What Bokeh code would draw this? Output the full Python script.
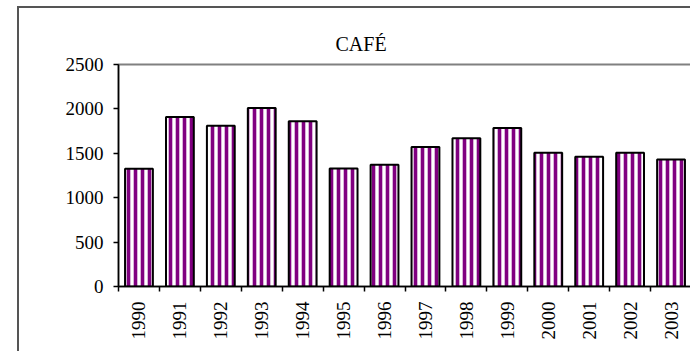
import math
from bokeh.plotting import figure
from bokeh.models import FixedTicker, Range1d
from bokeh.embed import file_html
from bokeh.resources import INLINE

title_text = "CAFÉ"
years = [1990, 1991, 1992, 1993, 1994, 1995, 1996, 1997, 1998, 1999, 2000, 2001, 2002, 2003]
year_labels = ["1990", "1991", "1992", "1993", "1994", "1995", "1996", "1997", "1998", "1999",
               "2000", "2001", "2002", "2003"]
values = [1325, 1910, 1810, 2010, 1860, 1330, 1370, 1570, 1670, 1785, 1505, 1460, 1505, 1430]
y_ticks = [0, 500, 1000, 1500, 2000, 2500]

FONT = "Liberation Serif"

p = figure(width=673, height=345, output_backend="svg", toolbar_location=None,
           x_range=Range1d(years[0] - 0.5, years[-1] + 0.5), y_range=Range1d(0, 2500),
           min_border_left=99, min_border_right=1, min_border_top=56, min_border_bottom=67)
p.margin = (6, 0, 0, 17)
p.styles = {"border-left": "2px solid #555555", "border-top": "2px solid #555555"}

p.title.text = title_text
p.title.align = "left"
p.title.offset = 217
p.title.text_font = FONT
p.title.text_font_size = "20px"
p.title.text_font_style = "normal"
p.title.text_color = "black"
p.title.standoff = 19

p.vbar(x=years, top=values, width=0.68, fill_color="white",
       hatch_pattern="|", hatch_color="#800080", hatch_scale=7, hatch_weight=3.6,
       line_color="black", line_width=2)

p.xgrid.visible = False
p.ygrid.visible = False
p.outline_line_color = "#808080"
p.outline_line_width = 2
p.background_fill_color = "white"
p.border_fill_color = "white"

xa = p.xaxis[0]
xa.ticker = FixedTicker(ticks=years, minor_ticks=[y - 0.5 for y in years] + [years[-1] + 0.5])
xa.major_label_overrides = {y: s for y, s in zip(years, year_labels)}
xa.major_label_orientation = math.pi / 2
xa.major_tick_in = 0
xa.major_tick_out = 0
xa.minor_tick_in = 0
xa.minor_tick_out = 5
xa.minor_tick_line_color = "black"
xa.minor_tick_line_width = 1.5
xa.axis_line_color = "black"
xa.axis_line_width = 1.5
xa.major_label_standoff = 10
xa.major_label_text_font = FONT
xa.major_label_text_font_size = "19px"
xa.major_label_text_color = "black"

ya = p.yaxis[0]
ya.ticker = FixedTicker(ticks=y_ticks)
ya.major_tick_in = 0
ya.major_tick_out = 5
ya.minor_tick_in = 0
ya.minor_tick_out = 0
ya.major_tick_line_color = "black"
ya.major_tick_line_width = 1.5
ya.axis_line_color = "black"
ya.axis_line_width = 1.5
ya.major_label_standoff = 10
ya.major_label_text_font = FONT
ya.major_label_text_font_size = "19px"
ya.major_label_text_color = "black"

open("out.html", "w").write(file_html(p, INLINE))
